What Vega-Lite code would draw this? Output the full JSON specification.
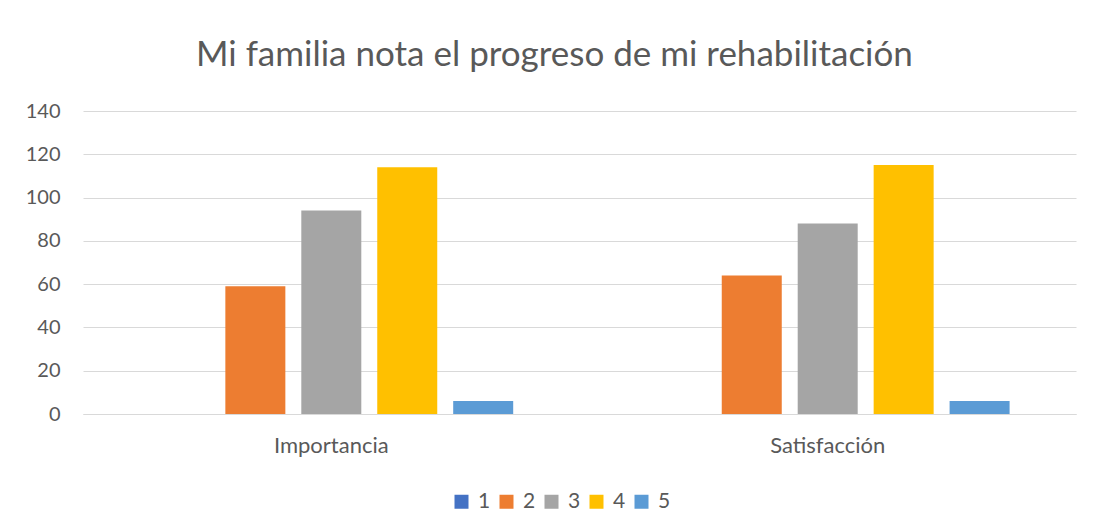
{
  "$schema": "https://vega.github.io/schema/vega-lite/v6.json",
  "width": 993,
  "height": 303,
  "autosize": {"type": "none"},
  "padding": {"left": 83, "top": 111, "right": 18, "bottom": 117},
  "background": "white",
  "title": {
    "text": "Mi familia nota el progreso de mi rehabilitación",
    "font": "Lato",
    "fontSize": 35,
    "fontWeight": "normal",
    "color": "#595959",
    "anchor": "middle",
    "dx": -25,
    "offset": 28
  },
  "data": {
    "values": [
      {"categoria": "Importancia", "serie": "1", "valor": 0},
      {"categoria": "Importancia", "serie": "2", "valor": 59},
      {"categoria": "Importancia", "serie": "3", "valor": 94},
      {"categoria": "Importancia", "serie": "4", "valor": 114},
      {"categoria": "Importancia", "serie": "5", "valor": 6},
      {"categoria": "Satisfacción", "serie": "1", "valor": 0},
      {"categoria": "Satisfacción", "serie": "2", "valor": 64},
      {"categoria": "Satisfacción", "serie": "3", "valor": 88},
      {"categoria": "Satisfacción", "serie": "4", "valor": 115},
      {"categoria": "Satisfacción", "serie": "5", "valor": 6}
    ]
  },
  "mark": {"type": "bar"},
  "encoding": {
    "x": {
      "field": "categoria",
      "type": "nominal",
      "sort": ["Importancia", "Satisfacción"],
      "scale": {"paddingInner": 0.235, "paddingOuter": 0.1177},
      "axis": {
        "title": null,
        "labelAngle": 0,
        "ticks": false,
        "domainColor": "#D9D9D9",
        "domainWidth": 1,
        "labelFont": "Lato",
        "labelFontSize": 22,
        "labelColor": "#595959",
        "labelPadding": 21
      }
    },
    "xOffset": {
      "field": "serie",
      "type": "nominal",
      "sort": ["1", "2", "3", "4", "5"],
      "scale": {"paddingInner": 0.21, "paddingOuter": 0.105}
    },
    "y": {
      "field": "valor",
      "type": "quantitative",
      "scale": {"domain": [0, 140]},
      "axis": {
        "title": null,
        "values": [0, 20, 40, 60, 80, 100, 120, 140],
        "domain": false,
        "ticks": false,
        "gridColor": "#D9D9D9",
        "gridWidth": 1,
        "labelFont": "Lato",
        "labelFontSize": 20,
        "labelColor": "#595959",
        "labelPadding": 23
      }
    },
    "color": {
      "field": "serie",
      "type": "nominal",
      "sort": ["1", "2", "3", "4", "5"],
      "scale": {
        "domain": ["1", "2", "3", "4", "5"],
        "range": ["#4472C4", "#ED7D31", "#A5A5A5", "#FFC000", "#5B9BD5"]
      },
      "legend": {
        "title": null,
        "orient": "none",
        "legendX": 368,
        "legendY": 380,
        "direction": "horizontal",
        "columns": 5,
        "symbolType": "square",
        "symbolSize": 196,
        "symbolStrokeWidth": 0,
        "labelFont": "Lato",
        "labelFontSize": 21,
        "labelColor": "#595959",
        "labelOffset": 6,
        "columnPadding": 5,
        "padding": 0
      }
    }
  },
  "config": {
    "view": {"stroke": null}
  }
}
